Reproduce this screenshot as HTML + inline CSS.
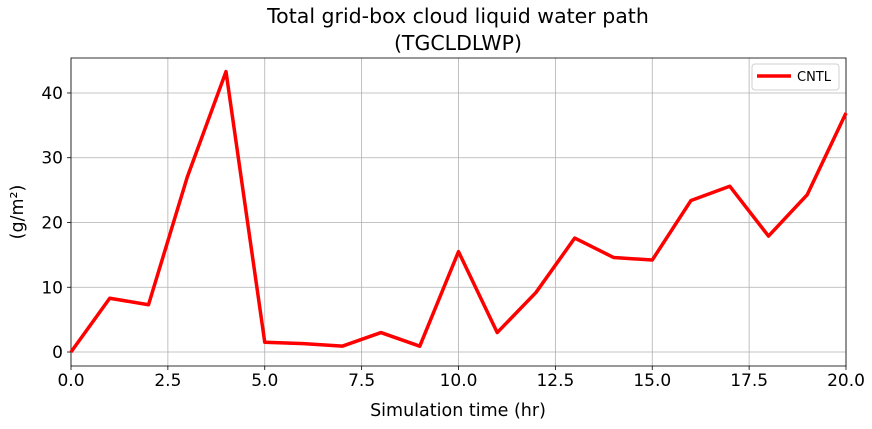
<!DOCTYPE html>
<html><head><meta charset="utf-8"><style>
body{margin:0;background:#fff;font-family:"Liberation Sans","DejaVu Sans",sans-serif;}
svg text{font-family:"DejaVu Sans","Liberation Sans",sans-serif;}
</style></head><body>
<svg id="chart" width="872" height="424" viewBox="0 0 872 424" xmlns="http://www.w3.org/2000/svg"></svg>
<script>
const hours=[0,1,2,3,4,5,6,7,8,9,10,11,12,13,14,15,16,17,18,19,20];
const cntlValues=[0,8.3,7.3,27,43.3,1.5,1.3,0.9,3,0.9,15.5,3,9.2,17.6,14.6,14.2,23.4,25.6,17.9,24.3,36.9];
const xTicks=[0,2.5,5,7.5,10,12.5,15,17.5,20];
const xTickLabels=["0.0","2.5","5.0","7.5","10.0","12.5","15.0","17.5","20.0"];
const yTicks=[0,10,20,30,40];
const yTickLabels=["0","10","20","30","40"];

const NS="http://www.w3.org/2000/svg";
const svg=document.getElementById('chart');
const L=71,R=846,T=58,B=366;
const xMin=0,xMax=20,yMin=-2.16,yMax=45.4;
const sx=v=>L+(v-xMin)/(xMax-xMin)*(R-L);
const sy=v=>B-(v-yMin)/(yMax-yMin)*(B-T);
function mk(tag,attrs,parent){const e=document.createElementNS(NS,tag);for(const k in attrs)e.setAttribute(k,attrs[k]);(parent||svg).appendChild(e);return e;}

const grid=mk('g',{});


xTicks.forEach((t,i)=>{
  mk('line',{x1:sx(t),x2:sx(t),y1:T,y2:B,stroke:'#b0b0b0','stroke-width':0.8},grid);
  mk('line',{x1:sx(t),x2:sx(t),y1:B,y2:B+4,stroke:'#000','stroke-width':0.8});
  const tx=mk('text',{x:sx(t),y:B+20,'text-anchor':'middle','font-size':17,fill:'#000'});
  
  
  tx.textContent=xTickLabels[i];
});
yTicks.forEach((t,i)=>{
  mk('line',{x1:L,x2:R,y1:sy(t),y2:sy(t),stroke:'#b0b0b0','stroke-width':0.8},grid);
  mk('line',{x1:L-4,x2:L,y1:sy(t),y2:sy(t),stroke:'#000','stroke-width':0.8});
  const tx=mk('text',{x:L-8,y:sy(t)+6,'text-anchor':'end','font-size':17,fill:'#000'});
  
  
  tx.textContent=yTickLabels[i];
});
const frame=mk('rect',{x:L,y:T,width:R-L,height:B-T,fill:'none',stroke:'#000','stroke-width':0.8});



const line=mk('polyline',{points:hours.map((h,i)=>sx(h)+','+sy(cntlValues[i])).join(' '),fill:'none',stroke:'#ff0000','stroke-width':3.5,'stroke-linejoin':'round'});



const t1=mk('text',{x:458,y:23,'text-anchor':'middle','font-size':20.5,fill:'#000'});


t1.textContent='Total grid-box cloud liquid water path';
const t2=mk('text',{x:458,y:50,'text-anchor':'middle','font-size':20.5,fill:'#000'});


t2.textContent='(TGCLDLWP)';
const xl=mk('text',{x:458,y:416,'text-anchor':'middle','font-size':17.5,fill:'#000'});


xl.textContent='Simulation time (hr)';
const yl=mk('text',{x:0,y:0,'text-anchor':'middle','font-size':17.5,fill:'#000',transform:'translate(23,212) rotate(-90)'});


yl.textContent='(g/m²)';

const lg=mk('g',{});


mk('rect',{x:752,y:64,width:87,height:26,rx:3,fill:'#fff',stroke:'#d0d0d0','stroke-width':1},lg);
mk('line',{x1:757,x2:791,y1:76,y2:76,stroke:'#ff0000','stroke-width':3.5},lg);
const lt=mk('text',{x:797,y:81,'font-size':13,fill:'#000'},lg);


lt.textContent='CNTL';
</script>
</body></html>
